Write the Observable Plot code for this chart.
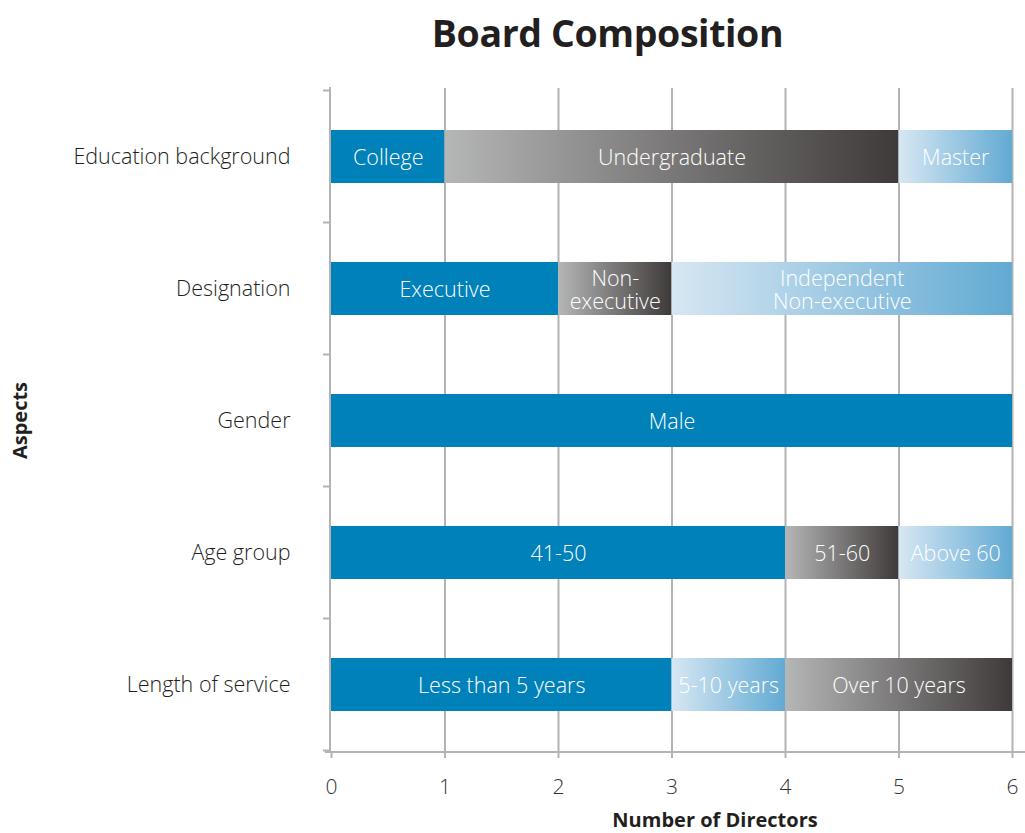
<!DOCTYPE html>
<html>
<head>
<meta charset="utf-8">
<script src="https://cdn.jsdelivr.net/npm/d3@7"></script>
<script src="https://cdn.jsdelivr.net/npm/@observablehq/plot@0.6"></script>
<style>
  body { margin: 0; background: #fff; }
  #title { height: 70px; width: 1025px; box-sizing: border-box; padding-left: 190px; text-align: center;
    font-family: "Open Sans", sans-serif; font-weight: 700; font-size: 37.5px; line-height: 66px; color: #231f20;
    font-stretch: 88%; letter-spacing: -0.4px; }
</style>
</head>
<body>
<div id="title">Board Composition</div>
<div id="chart"></div>
<script>
const aspects = ["Education background", "Designation", "Gender", "Age group", "Length of service"];
const segAspect = ["Education background", "Education background", "Education background",
  "Designation", "Designation", "Designation",
  "Gender",
  "Age group", "Age group", "Age group",
  "Length of service", "Length of service", "Length of service"];
const segLabel = ["College", "Undergraduate", "Master",
  "Executive", "Non-\nexecutive", "Independent\nNon-executive",
  "Male",
  "41-50", "51-60", "Above 60",
  "Less than 5 years", "5-10 years", "Over 10 years"];
const segCount = [1, 4, 1, 2, 1, 3, 6, 4, 1, 1, 3, 1, 2];
const segStyle = ["solid", "gray", "light", "solid", "gray", "light", "solid", "solid", "gray", "light", "solid", "light", "gray"];
const xTicks = [0, 1, 2, 3, 4, 5, 6];

// build table with cumulative starts per aspect
const acc = {};
const segs = segLabel.map((label, i) => {
  const a = segAspect[i];
  const x1 = acc[a] || 0;
  const x2 = x1 + segCount[i];
  acc[a] = x2;
  return {aspect: a, label, count: segCount[i], style: segStyle[i], x1, x2, mid: (x1 + x2) / 2};
});

const FONT = "'Open Sans', sans-serif";
const GRID = "#b3b3b3";

const defs = () => {
  const svg = d3.create("svg:defs");
  const g1 = svg.append("linearGradient").attr("id", "gradGray").attr("x1", 0).attr("x2", 1).attr("y1", 0).attr("y2", 0);
  g1.append("stop").attr("offset", "0%").attr("stop-color", "#b5b6b6");
  g1.append("stop").attr("offset", "100%").attr("stop-color", "#3e3a39");
  const g2 = svg.append("linearGradient").attr("id", "gradLight").attr("x1", 0).attr("x2", 1).attr("y1", 0).attr("y2", 0);
  g2.append("stop").attr("offset", "0%").attr("stop-color", "#d7e7f3");
  g2.append("stop").attr("offset", "100%").attr("stop-color", "#62aad3");
  return svg.node();
};

const frameLines = (index, scales, values, dims) => {
  const y = scales.y;
  const g = d3.create("svg:g").attr("stroke", GRID).attr("stroke-width", 2);
  const half = y.step() / 2;
  const bw = y.bandwidth();
  const bounds = aspects.map(a => y(a) + bw / 2 - half);
  bounds.push(y(aspects[aspects.length - 1]) + bw / 2 + half);
  for (const b of bounds) {
    g.append("line").attr("x1", dims.marginLeft - 8).attr("x2", dims.marginLeft - 1).attr("y1", b).attr("y2", b);
  }
  g.append("line").attr("x1", dims.marginLeft - 1).attr("x2", dims.marginLeft - 1)
    .attr("y1", dims.marginTop - 1).attr("y2", dims.height - dims.marginBottom);
  g.append("line").attr("x1", dims.marginLeft - 6).attr("x2", dims.width)
    .attr("y1", dims.height - dims.marginBottom).attr("y2", dims.height - dims.marginBottom);
  return g.node();
};

const chart = Plot.plot({
  width: 1025,
  height: 763,
  marginTop: 18,
  marginBottom: 81,
  marginLeft: 331,
  marginRight: 13,
  style: {fontFamily: FONT, background: "#fff"},
  x: {domain: [0, 6], ticks: xTicks},
  y: {domain: aspects, paddingInner: 0.6, paddingOuter: 0.3},
  marks: [
    defs,
    Plot.ruleX(xTicks.filter(d => d > 0), {stroke: GRID, strokeWidth: 2, strokeOpacity: 1}),
    Plot.axisX({ticks: xTicks, tickSize: 6, tickPadding: 21, stroke: GRID, strokeWidth: 2, fontSize: 21, fontWeight: 300, fill: "#333", label: null, tickFormat: d => String(d)}),
    Plot.axisY({tickSize: 0, tickPadding: 41, fontSize: 21.5, fontWeight: 300, fill: "#231f20", label: null}),
    Plot.rectX(segs.filter(d => d.style === "solid"), {x1: "x1", x2: "x2", y: "aspect", fill: "#0081b9"}),
    Plot.rectX(segs.filter(d => d.style === "gray"), {x1: "x1", x2: "x2", y: "aspect", fill: "url(#gradGray)"}),
    Plot.rectX(segs.filter(d => d.style === "light"), {x1: "x1", x2: "x2", y: "aspect", fill: "url(#gradLight)"}),
    Plot.text(segs, {x: "mid", y: "aspect", text: "label", fill: "white", fontSize: 21.5, fontWeight: 300, lineHeight: 1.06, dy: 1}),
    frameLines,
    Plot.text(["Aspects"], {frameAnchor: "left", rotate: -90, textAnchor: "middle", dx: -311, fontSize: 20, fontWeight: 700, fill: "#231f20"}),
    Plot.text(["Number of Directors"], {frameAnchor: "bottom", dx: 43, dy: 74, fontSize: 20, fontWeight: 700, fill: "#231f20"})
  ]
});
document.getElementById("chart").appendChild(chart);
</script>
</body>
</html>
